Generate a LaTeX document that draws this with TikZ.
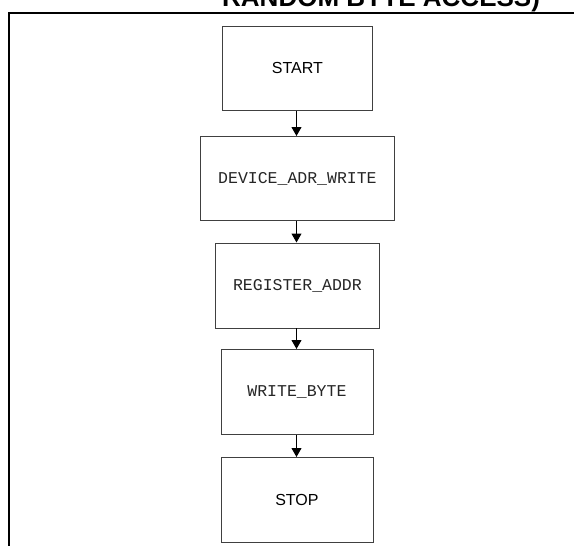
\documentclass[tikz,border=0pt]{standalone}
\usepackage{fontspec}
\setmainfont{Liberation Sans}
\newfontfamily\monofont{Liberation Mono}
\usetikzlibrary{arrows.meta}
\begin{document}
\begin{tikzpicture}[x=1pt,y=-1pt,
  boxa/.style={draw=black!75,line width=0.9pt,fill=white,inner sep=0pt,anchor=north west},
  lbl/.style={font=\fontsize{16}{18}\selectfont},
  mlbl/.style={font=\monofont\fontsize{16.5}{18}\selectfont,text=black!85},
  flow/.style={draw=black,line width=1pt,-{Triangle[length=9pt,width=10pt]}},
  frame/.style={draw=black,line width=2pt}]
\useasboundingbox (0,0) rectangle (574,546);
\begin{scope}
\clip (0,0) rectangle (574,546);
\node[anchor=base west,inner sep=0pt,font=\bfseries\fontsize{26}{28}\selectfont] (title) at (222,6.3) {RANDOM BYTE ACCESS)};
\end{scope}
\coordinate (fl) at (9,546);
\coordinate (ftl) at (9,13);
\coordinate (ftr) at (575,13);
\draw[frame] (fl) -- (ftl) -- (ftr);
% boxes
\node[boxa,minimum width=150pt,minimum height=84pt] (start) at (222,26) {};
\node[lbl] at (start.center) {START};
\node[boxa,minimum width=194pt,minimum height=84pt] (dev) at (200,136) {};
\node[mlbl] at (dev.center) {DEVICE\_ADR\_WRITE};
\node[boxa,minimum width=164pt,minimum height=85pt] (reg) at (215,242.5) {};
\node[mlbl] at (reg.center) {REGISTER\_ADDR};
\node[boxa,minimum width=152pt,minimum height=85pt] (wb) at (220.5,349) {};
\node[mlbl] at (wb.center) {WRITE\_BYTE};
\node[boxa,minimum width=152pt,minimum height=85pt] (stop) at (220.5,457) {};
\node[lbl] at (stop.center) {STOP};
% connectors
\draw[flow] (start.south -| 296.5,0) -- (dev.north -| 296.5,0);
\draw[flow] (dev.south -| 296.5,0) -- (reg.north -| 296.5,0);
\draw[flow] (reg.south -| 296.5,0) -- (wb.north -| 296.5,0);
\draw[flow] (wb.south -| 296.5,0) -- (stop.north -| 296.5,0);
\end{tikzpicture}
\end{document}
